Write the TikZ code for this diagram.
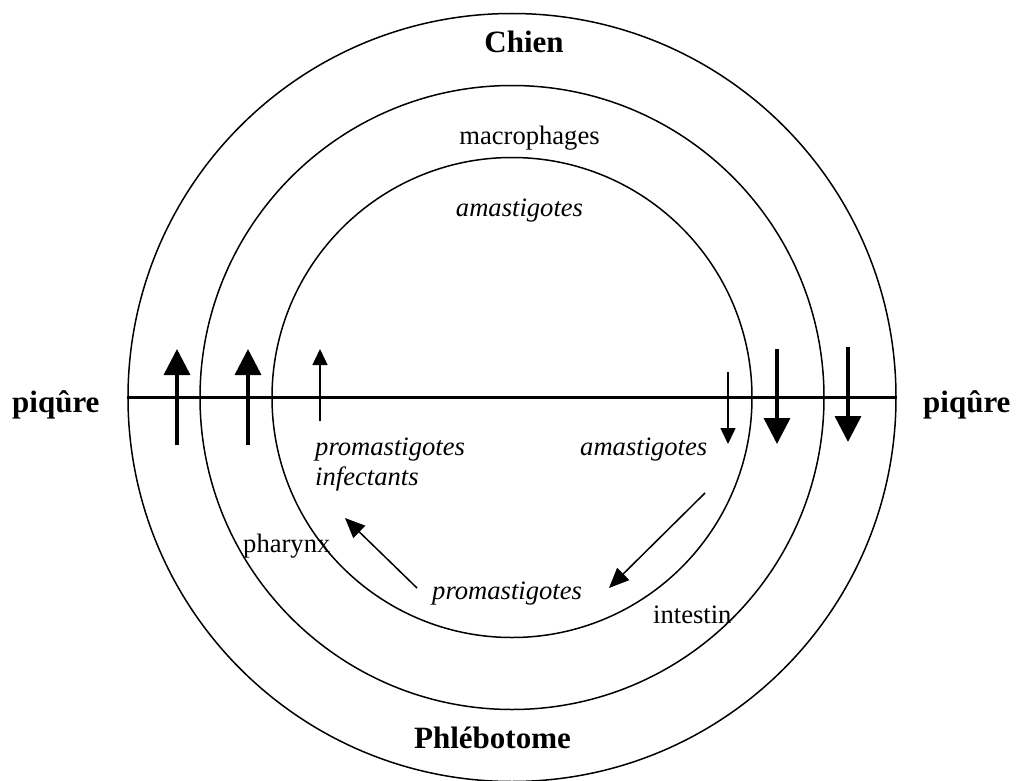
\documentclass[tikz,border=0pt]{standalone}
\usepackage{fontspec}
\setmainfont{Liberation Serif}
\usetikzlibrary{arrows.meta}
\tikzset{
  ring/.style={draw, circle, inner sep=0pt, line width=1.5pt},
  lbl/.style={inner sep=0pt, font=\fontsize{26.6}{30}\selectfont},
  ilbl/.style={inner sep=0pt, font=\fontsize{26.6}{30}\selectfont\itshape},
  blbl/.style={inner sep=0pt, font=\fontsize{31}{34}\selectfont\bfseries},
  bigarrow/.style={line width=3.5pt, -{Triangle[width=26pt,length=26pt]}},
  smallarrow/.style={line width=1.5pt, -{Triangle[width=15pt,length=16pt]}},
  diagarrow/.style={line width=1.5pt, -{Triangle[width=17pt,length=20pt]}},
}
\begin{document}
\begin{tikzpicture}[x=1pt,y=-1pt]
\useasboundingbox (0,0) rectangle (1020,781);
\coordinate (c) at (512,397.5);
\node[ring, minimum size=768pt] (outer) at (c) {};
\node[ring, minimum size=624pt] (middle) at (c) {};
\node[ring, minimum size=480pt] (inner) at (c) {};
\draw[line width=3pt] (outer.west) -- (outer.east);

% labels
\node[blbl, anchor=base] (chien) at (524,53) {Chien};
\node[lbl, anchor=base] (macro) at (529.5,145) {macrophages};
\node[ilbl, anchor=base] (amaT) at (519.5,216) {amastigotes};
\node[blbl, anchor=base west] (piqL) at (12,412) {piqûre};
\node[blbl, anchor=base west] (piqR) at (923,412) {piqûre};
\node[ilbl, anchor=base west, align=left] (proInf) at (315,485) {promastigotes\\infectants};
\node[ilbl, anchor=base west] (amaR) at (580,455) {amastigotes};
\node[lbl, anchor=base west] (phar) at (243,552) {pharynx};
\node[ilbl, anchor=base west] (proB) at (432,599) {promastigotes};
\node[lbl, anchor=base west] (intes) at (653,623) {intestin};
\node[blbl, anchor=base] (phleb) at (492.5,748) {Phlébotome};

% vertical arrows
\coordinate (a1s) at (177,445); \coordinate (a1e) at (177,349);
\coordinate (a2s) at (248,445); \coordinate (a2e) at (248,349);
\coordinate (a3s) at (320,421); \coordinate (a3e) at (320,349);
\coordinate (b1s) at (728,372); \coordinate (b1e) at (728,444);
\coordinate (b2s) at (777,349); \coordinate (b2e) at (777,444);
\coordinate (b3s) at (848,347); \coordinate (b3e) at (848,442);
\draw[bigarrow] (a1s) -- (a1e);
\draw[bigarrow] (a2s) -- (a2e);
\draw[smallarrow] (a3s) -- (a3e);
\draw[smallarrow] (b1s) -- (b1e);
\draw[bigarrow] (b2s) -- (b2e);
\draw[bigarrow] (b3s) -- (b3e);

% diagonal arrows
\coordinate (d1s) at (417,588); \coordinate (d1e) at (345,518);
\coordinate (d2s) at (705,493); \coordinate (d2e) at (609,588);
\draw[diagarrow] (d1s) -- (d1e);
\draw[diagarrow] (d2s) -- (d2e);
\end{tikzpicture}
\end{document}
